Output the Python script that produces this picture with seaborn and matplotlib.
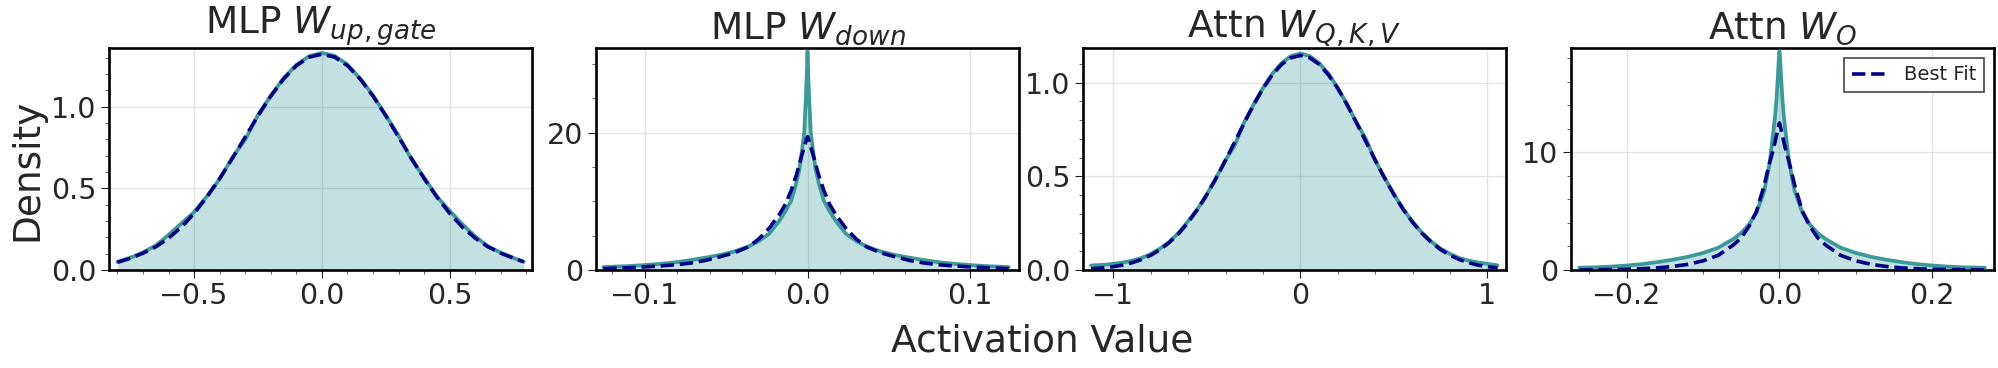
import matplotlib
matplotlib.use("Agg")
import matplotlib.pyplot as plt
from matplotlib.ticker import FixedLocator, AutoMinorLocator
import seaborn as sns
import pandas as pd

# ---------------- data ----------------
titles = [r"MLP $W_{up,gate}$", r"MLP $W_{down}$", r"Attn $W_{Q,K,V}$", r"Attn $W_{O}$"]

up_x = [-0.80, -0.75, -0.70, -0.65, -0.60, -0.55, -0.50, -0.45, -0.40, -0.35, -0.30, -0.25,
        -0.20, -0.15, -0.10, -0.05, 0.00, 0.05, 0.10, 0.15, 0.20, 0.25, 0.30, 0.35, 0.40,
        0.45, 0.50, 0.55, 0.60, 0.65, 0.70, 0.75, 0.79]
up_density = [0.050, 0.075, 0.108, 0.150, 0.215, 0.285, 0.355, 0.452, 0.558, 0.690, 0.800,
              0.950, 1.068, 1.175, 1.256, 1.310, 1.330, 1.312, 1.258, 1.172, 1.070, 0.948,
              0.822, 0.680, 0.566, 0.450, 0.362, 0.280, 0.205, 0.145, 0.106, 0.074, 0.050]
up_fit = [0.047, 0.072, 0.103, 0.142, 0.195, 0.262, 0.347, 0.447, 0.560, 0.685, 0.815, 0.945,
          1.065, 1.170, 1.252, 1.304, 1.322, 1.304, 1.252, 1.170, 1.065, 0.945, 0.815, 0.685,
          0.560, 0.447, 0.347, 0.262, 0.195, 0.142, 0.103, 0.072, 0.050]

down_x = [-0.1255, -0.11, -0.10, -0.09, -0.08, -0.0715, -0.0625, -0.0535, -0.045, -0.0365,
          -0.03, -0.0235, -0.0175, -0.0135, -0.01, -0.007, -0.005, -0.0035, -0.002, -0.001,
          -0.0005, 0.0, 0.0005, 0.001, 0.002, 0.0035, 0.005, 0.007, 0.01, 0.0135, 0.0175,
          0.0235, 0.03, 0.0365, 0.045, 0.0535, 0.0625, 0.0715, 0.08, 0.09, 0.10, 0.11, 0.1237]
down_density = [0.42, 0.57, 0.72, 0.90, 1.15, 1.45, 1.80, 2.20, 2.70, 3.40, 4.20, 5.30, 7.10,
                8.60, 10.1, 12.6, 14.6, 17.2, 20.0, 25.0, 28.0, 31.8, 28.0, 25.0, 20.0, 17.2,
                14.6, 12.6, 10.1, 8.60, 7.10, 5.30, 4.20, 3.40, 2.70, 2.20, 1.80, 1.45, 1.15,
                0.90, 0.72, 0.57, 0.42]
down_fit = [0.20, 0.33, 0.45, 0.60, 0.78, 1.02, 1.40, 1.95, 2.50, 3.35, 4.50, 6.10, 8.00, 9.60,
            11.6, 13.7, 15.4, 16.7, 17.9, 18.7, 19.1, 19.4, 19.1, 18.7, 17.9, 16.7, 15.4, 13.7,
            11.6, 9.60, 8.00, 6.10, 4.50, 3.35, 2.50, 1.95, 1.40, 1.02, 0.78, 0.60, 0.45, 0.33,
            0.20]

qkv_x = [-1.12, -1.05, -1.00, -0.95, -0.90, -0.85, -0.80, -0.75, -0.70, -0.65, -0.60, -0.55,
         -0.50, -0.45, -0.40, -0.35, -0.30, -0.25, -0.20, -0.15, -0.10, -0.05, 0.00, 0.05,
         0.10, 0.15, 0.20, 0.25, 0.30, 0.35, 0.40, 0.45, 0.50, 0.55, 0.60, 0.65, 0.70, 0.75,
         0.80, 0.85, 0.90, 0.95, 1.00, 1.055]
qkv_density = [0.024, 0.028, 0.033, 0.040, 0.050, 0.064, 0.086, 0.115, 0.152, 0.200, 0.262,
               0.326, 0.405, 0.494, 0.588, 0.668, 0.790, 0.884, 0.972, 1.048, 1.105, 1.142,
               1.156, 1.142, 1.105, 1.048, 0.972, 0.884, 0.788, 0.700, 0.585, 0.494, 0.405,
               0.326, 0.258, 0.200, 0.152, 0.115, 0.086, 0.064, 0.050, 0.040, 0.033, 0.025]
qkv_fit = [0.006, 0.012, 0.018, 0.026, 0.039, 0.056, 0.079, 0.109, 0.148, 0.196, 0.255, 0.324,
           0.403, 0.491, 0.587, 0.686, 0.786, 0.882, 0.969, 1.042, 1.098, 1.133, 1.145, 1.133,
           1.098, 1.042, 0.969, 0.882, 0.786, 0.686, 0.587, 0.491, 0.403, 0.324, 0.255, 0.196,
           0.148, 0.109, 0.079, 0.056, 0.039, 0.026, 0.018, 0.011]

o_x = [-0.262, -0.24, -0.22, -0.20, -0.18, -0.16, -0.14, -0.12, -0.10, -0.08, -0.06, -0.05,
       -0.04, -0.03, -0.02, -0.013, -0.009, -0.006, -0.004, -0.002, -0.001, 0.0, 0.001, 0.002,
       0.004, 0.006, 0.009, 0.013, 0.02, 0.03, 0.04, 0.05, 0.06, 0.08, 0.10, 0.12, 0.14, 0.16,
       0.18, 0.20, 0.22, 0.24, 0.269]
o_density = [0.20, 0.23, 0.29, 0.38, 0.50, 0.67, 0.87, 1.12, 1.45, 1.90, 2.65, 3.15, 3.85, 4.90,
             6.70, 9.00, 11.2, 12.9, 14.4, 16.5, 17.8, 18.6, 17.8, 16.5, 14.4, 12.9, 11.2, 9.00,
             6.70, 4.90, 3.85, 3.15, 2.65, 1.90, 1.45, 1.12, 0.87, 0.67, 0.50, 0.38, 0.29, 0.23,
             0.19]
o_fit = [0.015, 0.025, 0.04, 0.065, 0.11, 0.18, 0.30, 0.48, 0.78, 1.25, 2.15, 2.75, 3.70, 5.00,
         7.20, 9.10, 10.0, 10.8, 11.4, 12.0, 12.3, 12.5, 12.3, 12.0, 11.4, 10.8, 10.0, 9.10,
         7.20, 5.00, 3.70, 2.75, 2.15, 1.25, 0.78, 0.48, 0.30, 0.18, 0.11, 0.065, 0.04, 0.025,
         0.015]

xticks = [[-0.5, 0.0, 0.5], [-0.1, 0.0, 0.1], [-1, 0, 1], [-0.2, 0.0, 0.2]]
yticks = [[0.0, 0.5, 1.0], [0, 20], [0.0, 0.5, 1.0], [0, 10]]
xlims = [(-0.833, 0.822), (-0.130, 0.130), (-1.163, 1.10), (-0.273, 0.281)]
ylims = [(0, 1.36), (0, 32.3), (0, 1.185), (0, 18.87)]

panels = [(up_x, up_density, up_fit), (down_x, down_density, down_fit),
          (qkv_x, qkv_density, qkv_fit), (o_x, o_density, o_fit)]

# ---------------- style ----------------
sns.set_style("white")
plt.rcParams["font.family"] = ["DejaVu Sans"]
plt.rcParams["mathtext.fontset"] = "dejavusans"

W, H = 1999, 368
fig = plt.figure(figsize=(W / 100, H / 100), dpi=100)

lefts = [109, 596, 1083, 1571]
ax_w, ax_top, ax_bot = 423, 48, 270

line_color = "#3a9a98"
fill_color = "teal"
fit_color = "#00008B"

for i, (xs, dens, fit) in enumerate(panels):
    ax = fig.add_axes([lefts[i] / W, (H - ax_bot) / H, ax_w / W, (ax_bot - ax_top) / H])
    df = pd.DataFrame({"x": xs, "density": dens, "fit": fit})
    ax.fill_between(df["x"], 0, df["density"], color=fill_color, alpha=0.23, linewidth=0, zorder=2)
    sns.lineplot(data=df, x="x", y="density", ax=ax, color=line_color, linewidth=2.7,
                 estimator=None, sort=False, legend=False, zorder=3)
    sns.lineplot(data=df, x="x", y="fit", ax=ax, color=fit_color, linewidth=2.6,
                 linestyle="--", estimator=None, sort=False, label="Best Fit", zorder=4)
    ax.set_xlim(*xlims[i])
    ax.set_ylim(*ylims[i])
    ax.xaxis.set_major_locator(FixedLocator(xticks[i]))
    ax.yaxis.set_major_locator(FixedLocator(yticks[i]))
    ax.xaxis.set_minor_locator(AutoMinorLocator())
    ax.yaxis.set_minor_locator(AutoMinorLocator())
    ax.grid(True, which="major", color="#e4e4e4", linewidth=1.0, zorder=0)
    ax.set_axisbelow(True)
    ax.tick_params(axis="both", which="major", direction="out", length=5.5, width=0.8,
                   labelsize=20.5, color="#222222", left=True, bottom=True)
    ax.tick_params(axis="both", which="minor", direction="out", length=3, width=0.6,
                   color="#444444", left=True, bottom=True)
    for sp in ax.spines.values():
        sp.set_visible(True)
        sp.set_color("black")
        sp.set_linewidth(1.9)
    ax.set_xlabel("")
    ax.set_ylabel("")
    ax.set_title(titles[i], fontsize=27, pad=7)
    if i == 3:
        leg = ax.legend(loc="upper right", fontsize=14, fancybox=False, framealpha=1,
                        edgecolor="#444444", handlelength=1.7, handletextpad=1.0)
        leg.get_frame().set_linewidth(1.2)
    else:
        lg = ax.get_legend()
        if lg is not None:
            lg.remove()

fig.text(1042 / W, (H - 352) / H, "Activation Value", fontsize=27, ha="center", va="baseline")
fig.text(27 / W, (H - 170) / H, "Density", fontsize=27, rotation=90, ha="center", va="center")

fig.savefig("out.png", dpi=100)
